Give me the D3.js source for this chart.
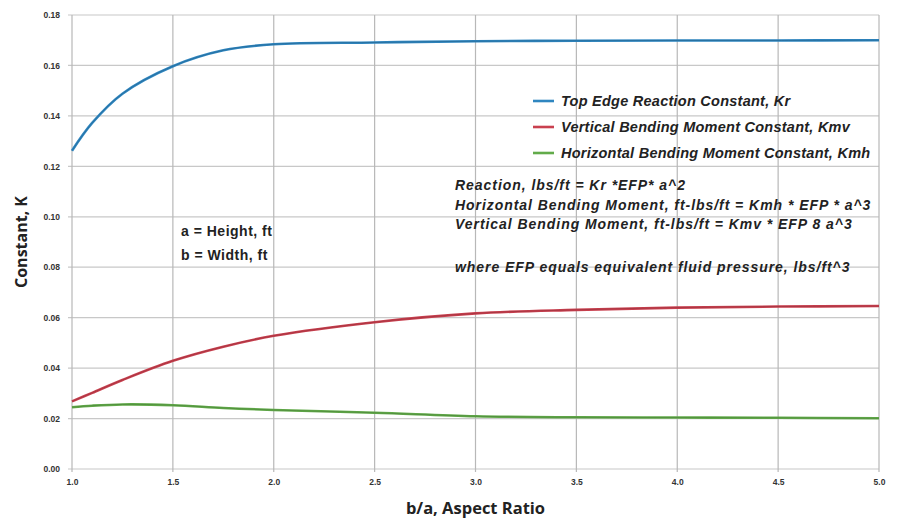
<!DOCTYPE html>
<html>
<head>
<meta charset="utf-8">
<script src="https://cdn.jsdelivr.net/npm/d3@7"></script>
<style>
  body { margin: 0; background: #fff; }
  svg { font-family: "Liberation Sans", Arial, sans-serif; }
</style>
</head>
<body>
<div id="wrapper"></div>
<script>
// aspect ratio b/a
const ratios = [1.0, 1.1, 1.25, 1.5, 1.75, 2.0, 2.5, 3.0, 3.5, 4.0, 4.5, 5.0];
// Top Edge Reaction Constant, Kr
const kr = [0.1262, 0.1372, 0.1488, 0.1597, 0.1660, 0.1684, 0.1691, 0.1696, 0.1698, 0.1699, 0.1699, 0.1700];
// Vertical Bending Moment Constant, Kmv
const kmv = [0.0268, 0.0302, 0.0353, 0.0429, 0.0485, 0.0528, 0.0582, 0.0617, 0.0631, 0.0640, 0.0644, 0.0646];
// Horizontal Bending Moment Constant, Kmh
const kmh = [0.0245, 0.0251, 0.0256, 0.0253, 0.0242, 0.0234, 0.0223, 0.0209, 0.0205, 0.0204, 0.0203, 0.0201];

const xTicks = [1.0, 1.5, 2.0, 2.5, 3.0, 3.5, 4.0, 4.5, 5.0];
const yTicks = [0, 0.02, 0.04, 0.06, 0.08, 0.10, 0.12, 0.14, 0.16, 0.18];

const seriesNames = [
  "Top Edge Reaction Constant, Kr",
  "Vertical Bending Moment Constant, Kmv",
  "Horizontal Bending Moment Constant, Kmh"
];
const seriesColors = ["#2f86c0", "#c9404f", "#62ab4a"];
const series = [kr, kmv, kmh];

const notes = [
  "Reaction, lbs/ft = Kr *EFP* a^2",
  "Horizontal Bending Moment, ft-lbs/ft = Kmh * EFP * a^3",
  "Vertical Bending Moment, ft-lbs/ft = Kmv * EFP 8 a^3"
];
const noteFoot = "where EFP equals equivalent fluid pressure, lbs/ft^3";
const defs = ["a = Height, ft", "b = Width, ft"];

const dimension = {
  width: 902,
  height: 521,
  margin: { top: 15, left: 72, bottom: 52, right: 23 }
};
dimension.boundedWidth = dimension.width - dimension.margin.left - dimension.margin.right;
dimension.boundedHeight = dimension.height - dimension.margin.top - dimension.margin.bottom;

const svg = d3.select("#wrapper").append("svg")
  .attr("width", dimension.width)
  .attr("height", dimension.height);

const bounded = svg.append("g")
  .attr("transform", `translate(${dimension.margin.left},${dimension.margin.top})`);

const xScaler = d3.scaleLinear().domain([1, 5]).range([0, dimension.boundedWidth]);
const yScaler = d3.scaleLinear().domain([0, 0.18]).range([dimension.boundedHeight, 0]);

// grid
bounded.append("g")
  .selectAll("line")
  .data(yTicks)
  .join("line")
  .attr("x1", -4)
  .attr("x2", dimension.boundedWidth)
  .attr("y1", d => yScaler(d))
  .attr("y2", d => yScaler(d))
  .attr("stroke", "#c8c8c8")
  .attr("stroke-width", 1.2);

bounded.append("g")
  .selectAll("line")
  .data(xTicks)
  .join("line")
  .attr("x1", d => xScaler(d))
  .attr("x2", d => xScaler(d))
  .attr("y1", 0)
  .attr("y2", dimension.boundedHeight + 3)
  .attr("stroke", "#b8b8b8")
  .attr("stroke-width", 1.2);

// axes (labels only)
const axX = d3.axisBottom(xScaler).tickValues(xTicks).tickFormat(d3.format(".1f")).tickSize(0).tickPadding(10);
const axY = d3.axisLeft(yScaler).tickValues(yTicks).tickFormat(d3.format(".2f")).tickSize(0).tickPadding(12);

const gx = bounded.append("g")
  .attr("transform", `translate(0,${dimension.boundedHeight})`)
  .call(axX);
const gy = bounded.append("g").call(axY);
[gx, gy].forEach(g => {
  g.select(".domain").remove();
  g.selectAll("text")
    .attr("font-family", "Liberation Sans, Arial, sans-serif")
    .attr("font-size", 8.5)
    .attr("font-weight", "bold")
    .attr("fill", "#333");
});

// lines
const lineGenerator = d3.line()
  .x((d, i) => xScaler(ratios[i]))
  .y(d => yScaler(d))
  .curve(d3.curveCatmullRom.alpha(0.5));

series.forEach((s, i) => {
  bounded.append("path")
    .attr("d", lineGenerator(s))
    .attr("fill", "none")
    .attr("stroke", seriesColors[i])
    .attr("stroke-width", 2.6);
  bounded.append("path")
    .attr("d", lineGenerator(s))
    .attr("fill", "none")
    .attr("stroke", d3.color(seriesColors[i]).darker(0.8))
    .attr("stroke-width", 0.9)
    .attr("opacity", 0.7);
});

// legend
const legend = svg.append("g").attr("transform", "translate(533,101)");
seriesNames.forEach((name, i) => {
  const row = legend.append("g").attr("transform", `translate(0,${i * 26})`);
  row.append("line")
    .attr("x1", 0).attr("x2", 21)
    .attr("y1", 0).attr("y2", 0)
    .attr("stroke", seriesColors[i])
    .attr("stroke-width", 2.6);
  row.append("text")
    .attr("x", 28)
    .attr("y", 5)
    .attr("font-size", 14.5)
    .attr("letter-spacing", 0.25)
    .attr("font-weight", "bold")
    .attr("font-style", "italic")
    .attr("fill", "#222")
    .text(name);
});

// formula notes
const noteStyle = sel => sel
  .attr("font-size", 14)
  .attr("letter-spacing", 0.95)
  .attr("font-weight", "bold")
  .attr("font-style", "italic")
  .attr("fill", "#222");

notes.forEach((t, i) => {
  svg.append("text")
    .attr("x", 455)
    .attr("y", 190 + i * 19.5)
    .call(noteStyle)
    .text(t);
});
svg.append("text")
  .attr("x", 455)
  .attr("y", 272)
  .call(noteStyle)
  .text(noteFoot);

defs.forEach((t, i) => {
  svg.append("text")
    .attr("x", 181)
    .attr("y", 236 + i * 24)
    .attr("font-size", 14)
    .attr("letter-spacing", 0.5)
    .attr("font-weight", "bold")
    .attr("fill", "#222")
    .text(t);
});

// axis titles
svg.append("text")
  .attr("x", dimension.margin.left + dimension.boundedWidth / 2)
  .attr("y", 514)
  .attr("text-anchor", "middle")
  .attr("font-family", "Open Sans, sans-serif")
  .attr("font-size", 16.5)
  .attr("font-weight", "bold")
  .attr("fill", "#222")
  .text("b/a, Aspect Ratio");

svg.append("text")
  .attr("transform", `translate(27,${dimension.margin.top + dimension.boundedHeight / 2}) rotate(-90)`)
  .attr("text-anchor", "middle")
  .attr("font-family", "Open Sans, sans-serif")
  .attr("font-size", 16)
  .attr("font-weight", "bold")
  .attr("fill", "#222")
  .text("Constant, K");
</script>
</body>
</html>
